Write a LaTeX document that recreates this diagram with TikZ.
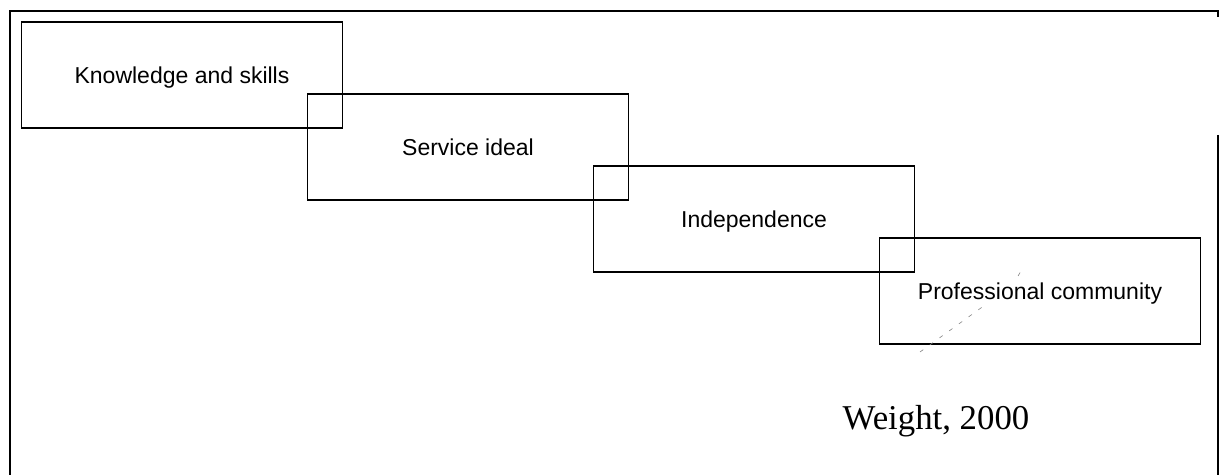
\documentclass[tikz,border=0pt]{standalone}
\usepackage{fontspec}
\setmainfont{Liberation Serif}
\newfontfamily\boxfont{Liberation Sans}
\usepackage{tikz}
\usetikzlibrary{positioning}

\begin{document}
\begin{tikzpicture}[
  x=0.5pt, y=-0.5pt,
  node distance=-17pt and -17.5pt,
  stepbox/.style={
    draw, line width=0.9pt,
    minimum width=160.5pt, minimum height=53pt,
    inner sep=0pt, outer sep=0pt,
    text height=9pt, text depth=0pt,
    font=\boxfont\fontsize{11.5}{13}\selectfont
  },
  frameline/.style={line width=1pt},
  scanmark/.style={dashed, dash pattern=on 2pt off 4pt, line width=0.3pt, gray}
]
\useasboundingbox (0,0) rectangle (1220,475);

%% ── Outer frame ──────────────────────────────────────────────
\draw[frameline] (10,475) |- (1218,11) -- ++(0,6);
\draw[frameline] (1218,135) -- (1218,475);

%% ── Staircase of boxes ───────────────────────────────────────
\node[stepbox] (know) at (182,75) {Knowledge and skills};
\node[stepbox, below right=of know] (service) {Service ideal};
\node[stepbox, below right=of service] (indep) {Independence};
\node[stepbox, below right=of indep] (community) {Professional community};

%% ── Faint scan marks ─────────────────────────────────────────
\coordinate (markA) at (920,352);
\coordinate (markB) at (985,305);
\coordinate (markC) at (1018,276);
\coordinate (markD) at (1021,271);
\draw[scanmark] (markA) -- (markB);
\draw[scanmark] (markC) -- (markD);

%% ── Source ───────────────────────────────────────────────────
\node[font=\fontsize{17.4}{20}\selectfont] (source) at (936,421) {Weight, 2000};

\end{tikzpicture}
\end{document}
